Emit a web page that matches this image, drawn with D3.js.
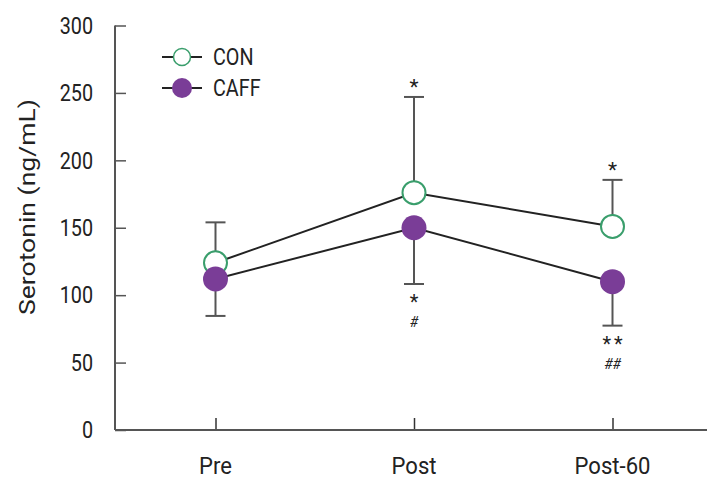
<!DOCTYPE html>
<html><head><meta charset="utf-8">
<script src="https://cdn.jsdelivr.net/npm/d3@7"></script>
<style>body{margin:0;background:#fff}svg{display:block}</style>
</head><body>
<script>
const categories = ["Pre", "Post", "Post-60"];
const conValues = [124, 176, 151];
const caffValues = [112, 150, 110];
const conErrTop = [154, 247, 185.5];
const caffErrBottom = [84.6, 108.3, 77.4];
const yTicks = [0, 50, 100, 150, 200, 250, 300];
const annotAbove = ["", "*", "*"];
const annotBelow1 = ["", "*", "**"];
const annotBelow2 = ["", "#", "##"];

const W = 723, H = 488;
const FONT = "'Roboto', 'Liberation Sans', sans-serif";
const svg = d3.select("body").append("svg").attr("width", W).attr("height", H);

const x = d3.scalePoint().domain(categories).range([215.5, 612.5]);
const y = d3.scaleLinear().domain([0, 300]).range([430, 25.5]);
const left = 115, right = 707;

const axisColor = "#555";
// Y axis
const yAxis = svg.append("g").attr("transform", `translate(${left},0)`)
  .call(d3.axisRight(y).tickValues(yTicks).tickSize(11).tickFormat(""));
yAxis.select(".domain").remove();
yAxis.selectAll("line").attr("stroke", axisColor).attr("stroke-width", 1.5);
svg.append("line").attr("x1", left).attr("x2", left).attr("y1", y(300)).attr("y2", y(0))
  .attr("stroke", axisColor).attr("stroke-width", 2);
svg.append("g").selectAll("text").data(yTicks).join("text")
  .attr("transform", d => `translate(93,${y(d)}) scale(0.86,1)`).attr("dy", "0.36em").attr("text-anchor", "end")
  .attr("font-family", FONT).attr("font-size", 23).attr("fill", "#222").text(d => d);

// X axis
const xAxis = svg.append("g").attr("transform", `translate(0,${y(0)})`)
  .call(d3.axisTop(x).tickSize(12).tickFormat(""));
xAxis.select(".domain").remove();
xAxis.selectAll("line").attr("stroke", "#333").attr("stroke-width", 1.5);
svg.append("line").attr("x1", left).attr("x2", right).attr("y1", y(0)).attr("y2", y(0))
  .attr("stroke", axisColor).attr("stroke-width", 2);
svg.append("g").selectAll("text").data(categories).join("text")
  .attr("transform", d => `translate(${x(d)},474) scale(0.92,1)`).attr("text-anchor", "middle")
  .attr("font-family", FONT).attr("font-size", 24).attr("fill", "#222").text(d => d);

// Y title
svg.append("text").attr("transform", "translate(35,207) rotate(-90)")
  .attr("text-anchor", "middle").attr("font-family", FONT).attr("font-size", 22)
  .attr("textLength", 216).attr("lengthAdjust", "spacingAndGlyphs")
  .attr("fill", "#222").text("Serotonin (ng/mL)");

// Error bars
const capW = 10;
const errG = svg.append("g").attr("stroke", "#555").attr("stroke-width", 2);
categories.forEach((c, i) => {
  errG.append("line").attr("x1", x(c)).attr("x2", x(c)).attr("y1", y(conValues[i])).attr("y2", y(conErrTop[i]));
  errG.append("line").attr("x1", x(c) - capW).attr("x2", x(c) + capW).attr("y1", y(conErrTop[i])).attr("y2", y(conErrTop[i]));
  errG.append("line").attr("x1", x(c)).attr("x2", x(c)).attr("y1", y(caffValues[i])).attr("y2", y(caffErrBottom[i]));
  errG.append("line").attr("x1", x(c) - capW).attr("x2", x(c) + capW).attr("y1", y(caffErrBottom[i])).attr("y2", y(caffErrBottom[i]));
});

// Lines
const line = d3.line().x((d, i) => x(categories[i])).y(d => y(d));
svg.append("path").datum(conValues).attr("d", line).attr("fill", "none").attr("stroke", "#222").attr("stroke-width", 2);
svg.append("path").datum(caffValues).attr("d", line).attr("fill", "none").attr("stroke", "#222").attr("stroke-width", 2);

const green = "#3a9e6c", purple = "#7a3d97";
svg.append("g").selectAll("circle").data(conValues).join("circle")
  .attr("cx", (d, i) => x(categories[i])).attr("cy", d => y(d)).attr("r", 11.5)
  .attr("fill", "#fff").attr("stroke", green).attr("stroke-width", 2);
svg.append("g").selectAll("circle").data(caffValues).join("circle")
  .attr("cx", (d, i) => x(categories[i])).attr("cy", d => y(d)).attr("r", 12.5)
  .attr("fill", purple);

// Annotations
const annG = svg.append("g").attr("font-family", FONT).attr("fill", "#222").attr("text-anchor", "middle");
categories.forEach((c, i) => {
  annG.append("text").attr("x", x(c)).attr("y", y(conErrTop[i]) - 3).attr("font-size", 21).text(annotAbove[i]);
  annG.append("text").attr("x", x(c) + 1.5).attr("y", y(caffErrBottom[i]) + 25).attr("font-size", 20)
    .attr("letter-spacing", 3).text(annotBelow1[i]);
  annG.append("text").attr("x", x(c)).attr("y", y(caffErrBottom[i]) + 43).attr("font-size", 14).attr("font-style", "italic").text(annotBelow2[i]);
});

// Legend
const legend = [{name: "CON", fill: "#fff", stroke: green, r: 8.5}, {name: "CAFF", fill: purple, stroke: "none", r: 10}];
const lg = svg.append("g");
legend.forEach((d, i) => {
  const ly = 57 + i * 31;
  lg.append("line").attr("x1", 162).attr("x2", 202).attr("y1", ly).attr("y2", ly).attr("stroke", "#222").attr("stroke-width", 2);
  lg.append("circle").attr("cx", 182).attr("cy", ly).attr("r", d.r).attr("fill", d.fill)
    .attr("stroke", d.stroke).attr("stroke-width", 1.5);
  lg.append("text").attr("transform", `translate(213,${ly}) scale(0.86,1)`).attr("dy", "0.36em").attr("font-family", FONT)
    .attr("font-size", 23).attr("fill", "#222").text(d.name);
});
</script>
</body></html>
